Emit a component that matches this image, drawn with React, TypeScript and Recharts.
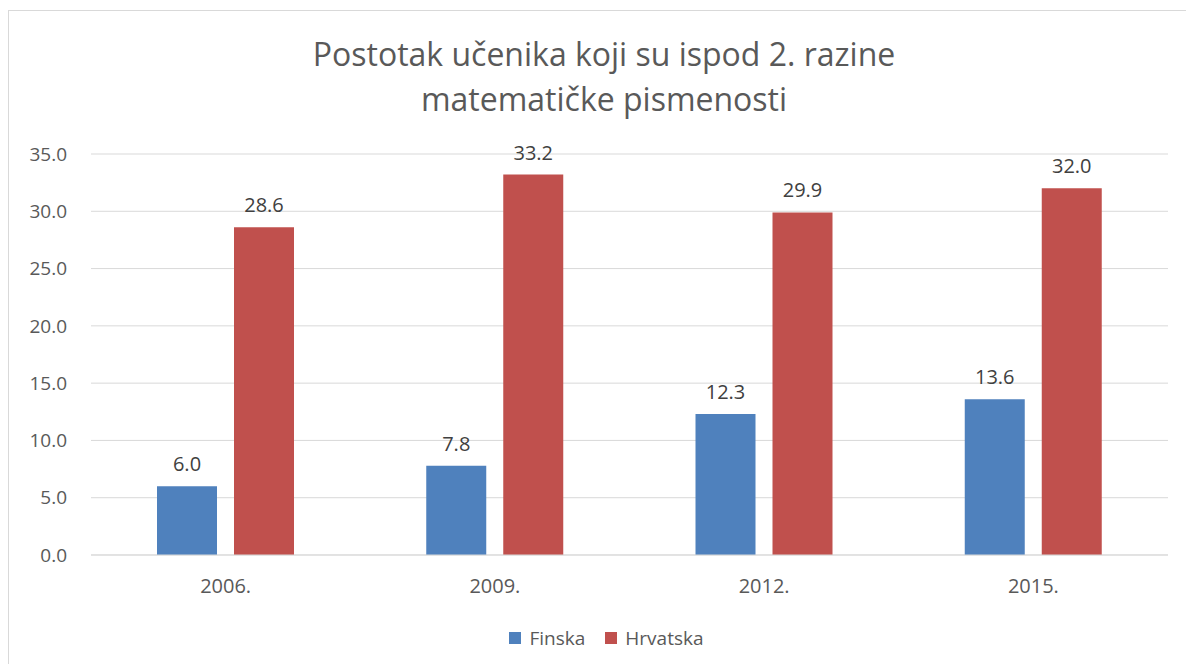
import React from 'react'
import {
  BarChart,
  Bar,
  XAxis,
  YAxis,
  CartesianGrid,
  Legend,
  LabelList
} from 'recharts'

const years = ['2006.', '2009.', '2012.', '2015.']
const finska = [6.0, 7.8, 12.3, 13.6]
const hrvatska = [28.6, 33.2, 29.9, 32.0]
const yTicks = [0, 5, 10, 15, 20, 25, 30, 35]

const BLUE = '#4f81bd'
const RED = '#c0504d'
const TEXT = '#595959'
const GRID = '#d9d9d9'
const FONT = '"Open Sans", "Noto Sans", sans-serif'

const data = years.map((year, i) => ({
  year,
  Finska: finska[i],
  Hrvatska: hrvatska[i]
}))

const fmt = (v: any) => Number(v).toFixed(1)

function LegendContent({ payload }: any) {
  return (
    <div
      style={{
        display: 'flex',
        justifyContent: 'center',
        alignItems: 'center',
        height: 24,
        paddingLeft: 36,
        fontSize: 19,
        color: TEXT,
        fontFamily: FONT
      }}
    >
      {(payload || []).map((entry: any) => (
        <div
          key={entry.value}
          style={{ display: 'flex', alignItems: 'center', margin: '0 10px' }}
        >
          <span
            style={{
              display: 'inline-block',
              width: 12,
              height: 12,
              background: entry.color,
              marginRight: 8
            }}
          />
          <span>{entry.value}</span>
        </div>
      ))}
    </div>
  )
}

export default function App() {
  return (
    <div style={{ width: 1186, height: 656, overflow: 'hidden', position: 'relative' }}>
      <div
        style={{
          position: 'absolute',
          top: 2,
          left: 0,
          width: 1200,
          height: 700,
          border: `1px solid ${GRID}`,
          background: '#fff',
          fontFamily: FONT
        }}
      >
        <div
          style={{
            position: 'absolute',
            top: 20,
            left: 0,
            width: 1190,
            textAlign: 'center',
            fontSize: 32,
            lineHeight: '45px',
            color: TEXT
          }}
        >
          Postotak učenika koji su ispod 2. razine
          <br />
          matematičke pismenosti
        </div>
        <BarChart
          width={1178}
          height={654}
          data={data}
          margin={{ top: 143, right: 19, left: 0, bottom: 15 }}
          barSize={60}
          barGap={17}
        >
          <CartesianGrid vertical={false} stroke={GRID} strokeWidth={1} />
          <XAxis
            dataKey="year"
            height={71}
            axisLine={{ stroke: GRID }}
            tickLine={false}
            tickSize={0}
            tickMargin={24}
            tick={{ fill: TEXT, fontSize: 20 }}
          />
          <YAxis
            width={82}
            domain={[0, 35]}
            ticks={yTicks}
            tickFormatter={fmt}
            axisLine={false}
            tickLine={false}
            tickSize={0}
            tickMargin={24}
            tick={{ fill: TEXT, fontSize: 19 }}
          />
          <Legend verticalAlign="bottom" content={<LegendContent />} />
          <Bar dataKey="Finska" fill={BLUE} isAnimationActive={false}>
            <LabelList
              dataKey="Finska"
              position="top"
              offset={15}
              formatter={fmt}
              fill="#404040"
              fontSize={20}
            />
          </Bar>
          <Bar dataKey="Hrvatska" fill={RED} isAnimationActive={false}>
            <LabelList
              dataKey="Hrvatska"
              position="top"
              offset={15}
              formatter={fmt}
              fill="#404040"
              fontSize={20}
            />
          </Bar>
        </BarChart>
      </div>
    </div>
  )
}
